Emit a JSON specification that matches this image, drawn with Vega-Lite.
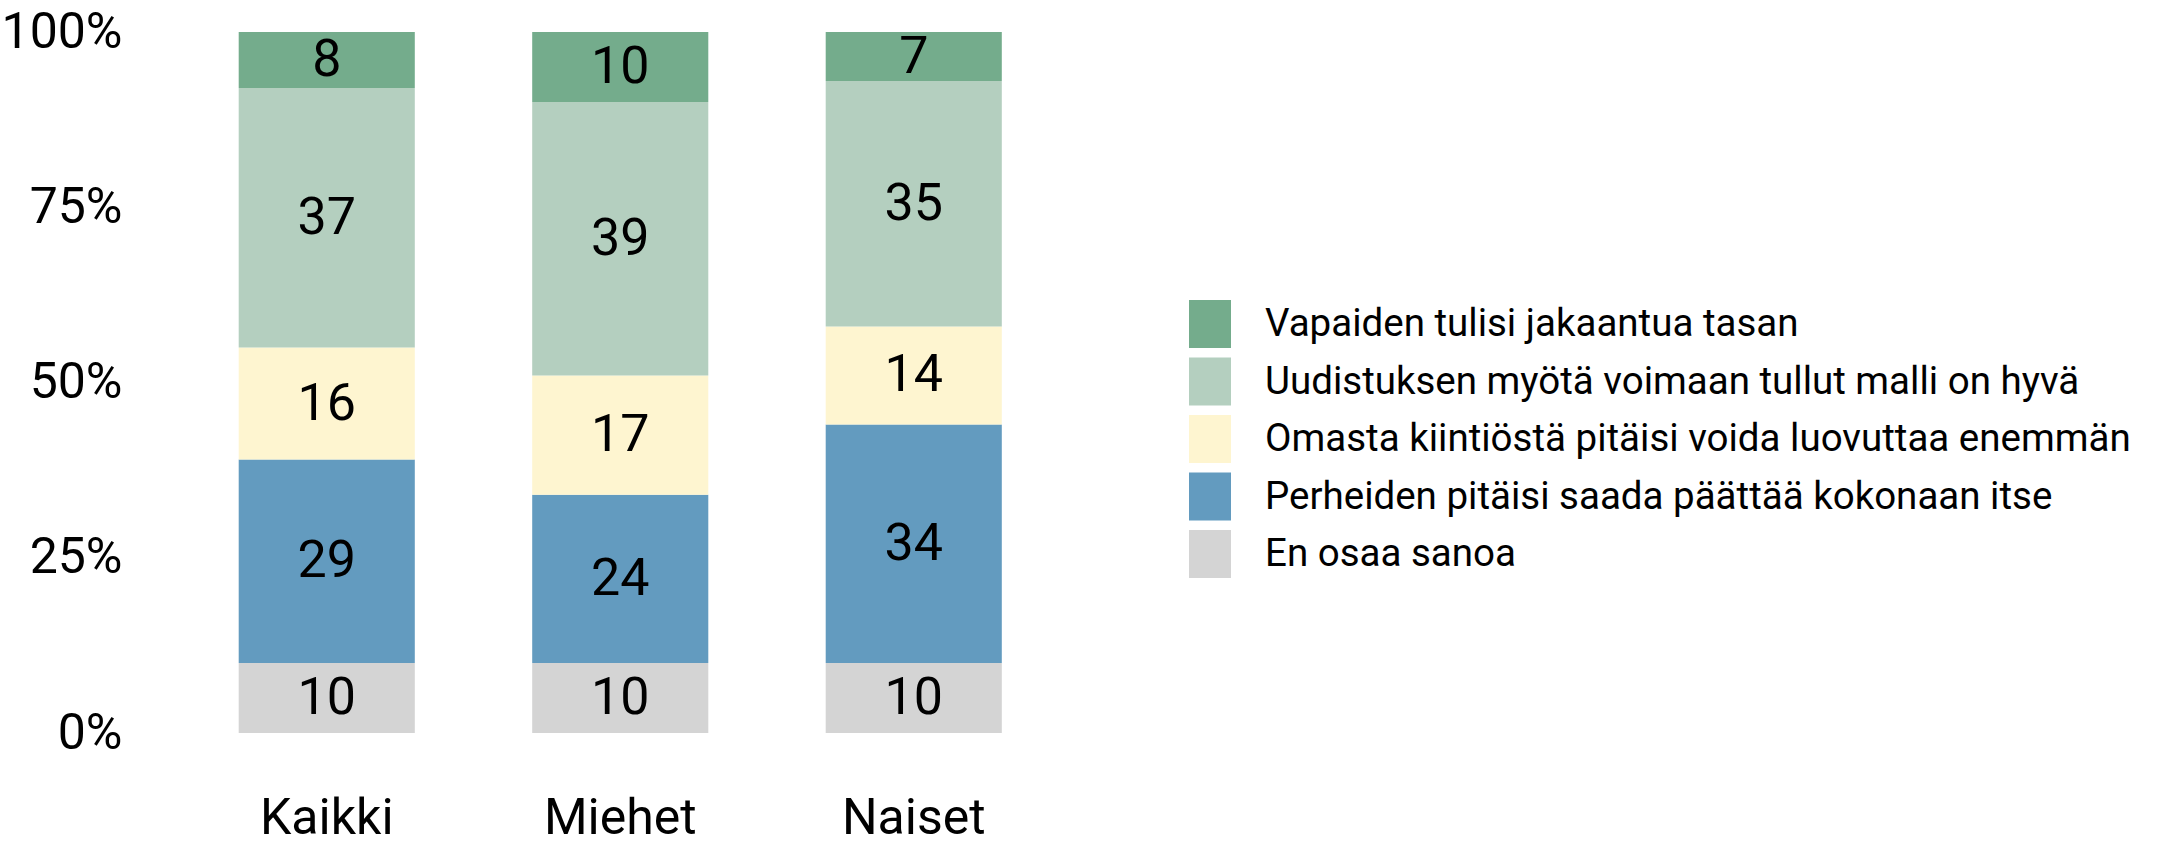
{
  "$schema": "https://vega.github.io/schema/vega-lite/v6.json",
  "autosize": "none",
  "padding": {"left": 180, "top": 32, "right": 1101, "bottom": 112},
  "width": 880.5,
  "height": 701,
  "background": "white",
  "config": {
    "view": {"stroke": null},
    "font": "Roboto, sans-serif"
  },
  "data": {
    "values": [
      {"group": "Kaikki", "response": "En osaa sanoa", "value": 10},
      {"group": "Kaikki", "response": "Perheiden pitäisi saada päättää kokonaan itse", "value": 29},
      {"group": "Kaikki", "response": "Omasta kiintiöstä pitäisi voida luovuttaa enemmän", "value": 16},
      {"group": "Kaikki", "response": "Uudistuksen myötä voimaan tullut malli on hyvä", "value": 37},
      {"group": "Kaikki", "response": "Vapaiden tulisi jakaantua tasan", "value": 8},
      {"group": "Miehet", "response": "En osaa sanoa", "value": 10},
      {"group": "Miehet", "response": "Perheiden pitäisi saada päättää kokonaan itse", "value": 24},
      {"group": "Miehet", "response": "Omasta kiintiöstä pitäisi voida luovuttaa enemmän", "value": 17},
      {"group": "Miehet", "response": "Uudistuksen myötä voimaan tullut malli on hyvä", "value": 39},
      {"group": "Miehet", "response": "Vapaiden tulisi jakaantua tasan", "value": 10},
      {"group": "Naiset", "response": "En osaa sanoa", "value": 10},
      {"group": "Naiset", "response": "Perheiden pitäisi saada päättää kokonaan itse", "value": 34},
      {"group": "Naiset", "response": "Omasta kiintiöstä pitäisi voida luovuttaa enemmän", "value": 14},
      {"group": "Naiset", "response": "Uudistuksen myötä voimaan tullut malli on hyvä", "value": 35},
      {"group": "Naiset", "response": "Vapaiden tulisi jakaantua tasan", "value": 7}
    ]
  },
  "transform": [
    {"stack": "value", "groupby": ["group"], "as": ["y0", "y1"]}
  ],
  "encoding": {
    "x": {
      "field": "group",
      "type": "nominal",
      "sort": ["Kaikki", "Miehet", "Naiset"],
      "scale": {"paddingInner": 0.4, "paddingOuter": 0.2},
      "axis": {
        "title": null,
        "domain": false,
        "ticks": false,
        "tickSize": 0,
        "labelAngle": 0,
        "labelFontSize": 50,
        "labelColor": "#000000",
        "labelBaseline": "alphabetic",
        "labelPadding": 100
      }
    }
  },
  "layer": [
    {
      "mark": {"type": "bar"},
      "encoding": {
        "y": {
          "field": "y0",
          "type": "quantitative",
          "scale": {"domain": [0, 100], "nice": false},
          "axis": {
            "title": null,
            "domain": false,
            "ticks": false,
            "tickSize": 0,
            "grid": false,
            "values": [0, 25, 50, 75, 100],
            "labelExpr": "datum.value + '%'",
            "labelFontSize": 50,
            "labelColor": "#000000",
            "labelPadding": 58,
            "labelBaseline": "middle"
          }
        },
        "y2": {"field": "y1"},
        "color": {
          "field": "response",
          "type": "nominal",
          "scale": {
            "domain": [
              "Vapaiden tulisi jakaantua tasan",
              "Uudistuksen myötä voimaan tullut malli on hyvä",
              "Omasta kiintiöstä pitäisi voida luovuttaa enemmän",
              "Perheiden pitäisi saada päättää kokonaan itse",
              "En osaa sanoa"
            ],
            "range": ["#74AC8C", "#B4CFBF", "#FEF5D0", "#639BBF", "#D4D4D4"]
          },
          "legend": {
            "title": null,
            "orient": "none",
            "legendX": 1006,
            "legendY": 268,
            "padding": 0,
            "symbolType": "M-0.875,-1H0.875V1H-0.875Z",
            "symbolSize": 2304,
            "symbolStrokeWidth": 0,
            "symbolOpacity": 1,
            "labelFontSize": 38.5,
            "labelColor": "#000000",
            "labelOffset": 31,
            "labelLimit": 1000,
            "rowPadding": 9.5
          }
        }
      }
    },
    {
      "transform": [
        {"fold": ["y0", "y1"], "as": ["edge", "pos"]},
        {"aggregate": [{"op": "mean", "field": "pos", "as": "mid"}], "groupby": ["group", "response", "value"]}
      ],
      "mark": {"type": "text", "fontSize": 52, "color": "#000000", "baseline": "middle", "align": "center"},
      "encoding": {
        "y": {"field": "mid", "type": "quantitative"},
        "text": {"field": "value", "type": "quantitative"}
      }
    }
  ]
}
